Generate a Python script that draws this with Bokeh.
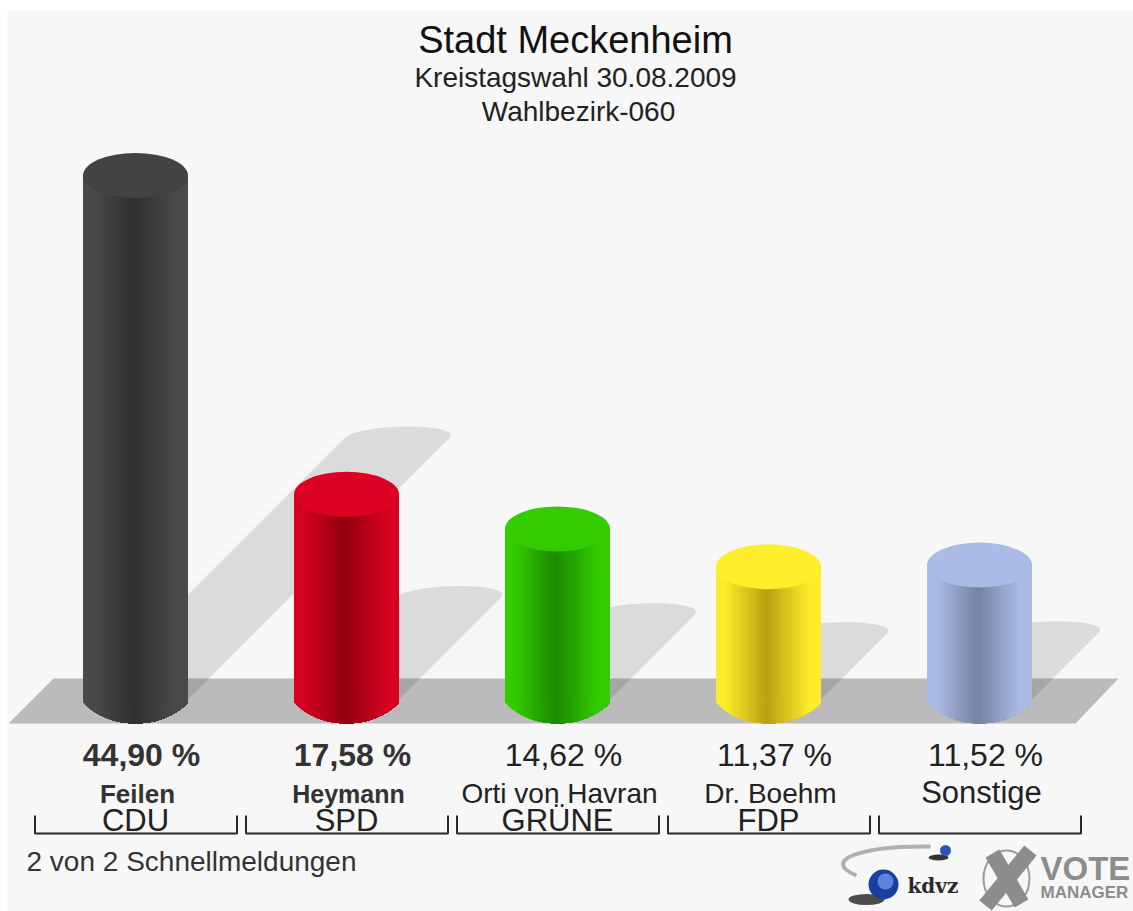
import numpy as np
from bokeh.plotting import figure
from bokeh.models import Range1d, ColumnDataSource
from bokeh.core.properties import value
from bokeh.embed import file_html
from bokeh.resources import INLINE

title = "Stadt Meckenheim"
subtitle = "Kreistagswahl 30.08.2009"
district = "Wahlbezirk-060"
footer = "2 von 2 Schnellmeldungen"
parties = ["CDU", "SPD", "GRÜNE", "FDP", ""]
names = ["Feilen", "Heymann", "Orti von Havran", "Dr. Boehm", "Sonstige"]
values = [44.90, 17.58, 14.62, 11.37, 11.52]
value_labels = ["44,90 %", "17,58 %", "14,62 %", "11,37 %", "11,52 %"]
edge_colors = ["#4a4a4a", "#d60024", "#33cc00", "#fdec2a", "#abbbe6"]
centre_colors = ["#303030", "#90000f", "#1c8a00", "#b8a012", "#76829f"]
cap_colors = ["#434343", "#dc0022", "#33cc00", "#ffee2b", "#aabbe6"]

W, H = 1133, 911
PX_X, PX_Y = 211.0, 11.67      # pixels per category step / per percent
X0, Y0 = 135.0, 699.0          # page pixel of category 0 / of 0 %
HALF_W = 52.5 / PX_X
CAP_H = 45.0 / PX_Y
FONT = value("Liberation Sans")
TEXT_DROP = 0.37               # the baseline lands this many font sizes too low

def X(px):
    return (np.asarray(px, dtype=float) - X0) / PX_X

def Y(py):
    return (Y0 - np.asarray(py, dtype=float)) / PX_Y

p = figure(width=W, height=H, output_backend="svg", toolbar_location=None,
           x_range=Range1d(float(X(0)), float(X(W))),
           y_range=Range1d(float(Y(H)), float(Y(0))),
           min_border=0, background_fill_color="#ffffff",
           border_fill_color="#ffffff", outline_line_color=None)
p.axis.visible = False
p.grid.visible = False

def hex_rgb(c):
    return np.array([int(c[i:i + 2], 16) for i in (1, 3, 5)], dtype=float)

def rgb_hex(a):
    return "#%02x%02x%02x" % tuple(int(round(v)) for v in a)

# panel
p.quad(left=X([7]), right=X([W]), top=Y([10]), bottom=Y([H]), fill_color="#f7f7f7", line_color=None)

# floor
p.patch(X([8, 53, 1118, 1075]), Y([723, 678, 678, 723]), fill_color="#bbbbbb", line_color=None)

# shadows, half as high as the bar and sheared to the upper right
sx, sy = [], []
t = np.linspace(-1, 1, 41)
for i, v in enumerate(values):
    rise = 0.5 * v * PX_Y
    r = rise + 11.0 * np.sqrt(1 - t ** 2)
    cx = X0 + PX_X * i
    sx.append(list(X(np.r_[cx - 52.5, cx + 52.5 * t + r, cx + 52.5])))
    sy.append(list(Y(np.r_[Y0, Y0 - r, Y0])))
p.patches(sx, sy, fill_color="#000000", fill_alpha=0.11, line_color=None)

# cylinders: each shaded band reaches to the right edge and the next one paints over it
N = 52
edges = np.linspace(-1, 1, N + 1)

def arc(u):
    return (21.0 * (np.sqrt(1 - (0.8 * u) ** 2) - 0.6) / 0.4 + 3.0) / PX_Y

xs, ys, cols = [], [], []
for i, v in enumerate(values):
    e, c = hex_rgb(edge_colors[i]), hex_rgb(centre_colors[i])
    for j in range(N):
        u = edges[j:]
        m = (edges[j] + edges[j + 1]) / 2 + 0.03
        k = min(1.0, abs(m) / 0.8)
        xs.append(list(np.r_[i + u[0] * HALF_W, i + u[-1] * HALF_W, i + u[::-1] * HALF_W]))
        ys.append(list(np.r_[v, v, -arc(u[::-1])]))
        cols.append(rgb_hex(c + (e - c) * k))
p.patches(xs, ys, fill_color=cols, line_color=None)

# caps
idx = list(range(len(values)))
p.ellipse(idx, values, width=2 * HALF_W, height=CAP_H, fill_color=cap_colors, line_color=None)

def label(x, py, texts, size, style="normal", color="#222222", align="center", font=FONT):
    x = [float(a) for a in x]
    y = float(Y(py - TEXT_DROP * size))
    src = ColumnDataSource(dict(x=x, y=[y] * len(x), t=list(texts)))
    p.text("x", "y", "t", source=src, text_font=font, text_font_size=f"{size}px", text_color=color,
           text_align=align, text_baseline="alphabetic", text_font_style=style)

VALUE_SHIFT = 6 / PX_X
NAME_SHIFT = 2 / PX_X
label([X(575)], 54, [title], 38, color="#111111")
label([X(575)], 87, [subtitle], 28)
label([X(578)], 121, [district], 28)
label([i + VALUE_SHIFT for i in idx[:2]], 766, value_labels[:2], 32, "bold", "#333333")
label([i + VALUE_SHIFT for i in idx[2:]], 766, value_labels[2:], 32)
label([NAME_SHIFT], 803, names[:1], 26, "bold", "#333333")
label([1 + NAME_SHIFT], 803, names[1:2], 25, "bold", "#333333")
label([i + NAME_SHIFT for i in idx[2:4]], 803, names[2:4], 28)
label([4 + NAME_SHIFT], 803, names[4:], 31)
label(idx[:4], 831, parties[:4], 31)
label([X(26)], 871, [footer], 28, align="left", color="#333333")

# brackets below each bar
bx, by = [], []
for i in idx:
    l, r = i - 100.5 / PX_X, i + 101.5 / PX_X
    bx.append([l, l, r, r])
    by.append(list(Y([815, 833, 833, 815])))
p.multi_line(bx, by, line_color="#2a2a2a", line_width=2)

# logo
p.bezier(X([930]), Y([846]), X([856]), Y([875]), X([860]), Y([845]), X([820]), Y([860]),
         line_color="#b0b0b0", line_width=4)
p.ellipse(X([866]), Y([899]), width=36 / PX_X, height=11 / PX_Y, fill_color="#222222", fill_alpha=0.8, line_color=None)
p.scatter(X([883]), Y([884]), size=30, fill_color="#1b3f9e", line_color=None)
p.scatter(X([885]), Y([881]), size=16, fill_color="#5d84d8", line_color=None)
p.ellipse(X([938]), Y([857]), width=20 / PX_X, height=6 / PX_Y, fill_color="#333333", line_color=None)
p.scatter(X([945]), Y([850]), size=11, fill_color="#2b55b8", line_color=None)
label([X(907)], 893, ["kdvz"], 20, "bold", "#2a2a2a", "left", value("DejaVu Serif"))
p.ellipse(X([1006]), Y([878]), width=46 / PX_X, height=56 / PX_Y, fill_color=None, line_color="#9a9a9a", line_width=2)
p.multi_line([list(X([992, 1021])), list(X([1030, 985]))], [list(Y([853, 903])), list(Y([850, 905]))],
             line_color="#8c8c8c", line_width=16)
label([X(1040)], 880, ["VOTE"], 33, "bold", "#8c8c8c", "left")
label([X(1040)], 898, ["MANAGER"], 17, "bold", "#8c8c8c", "left")

open("out.html", "w").write(file_html(p, INLINE))
